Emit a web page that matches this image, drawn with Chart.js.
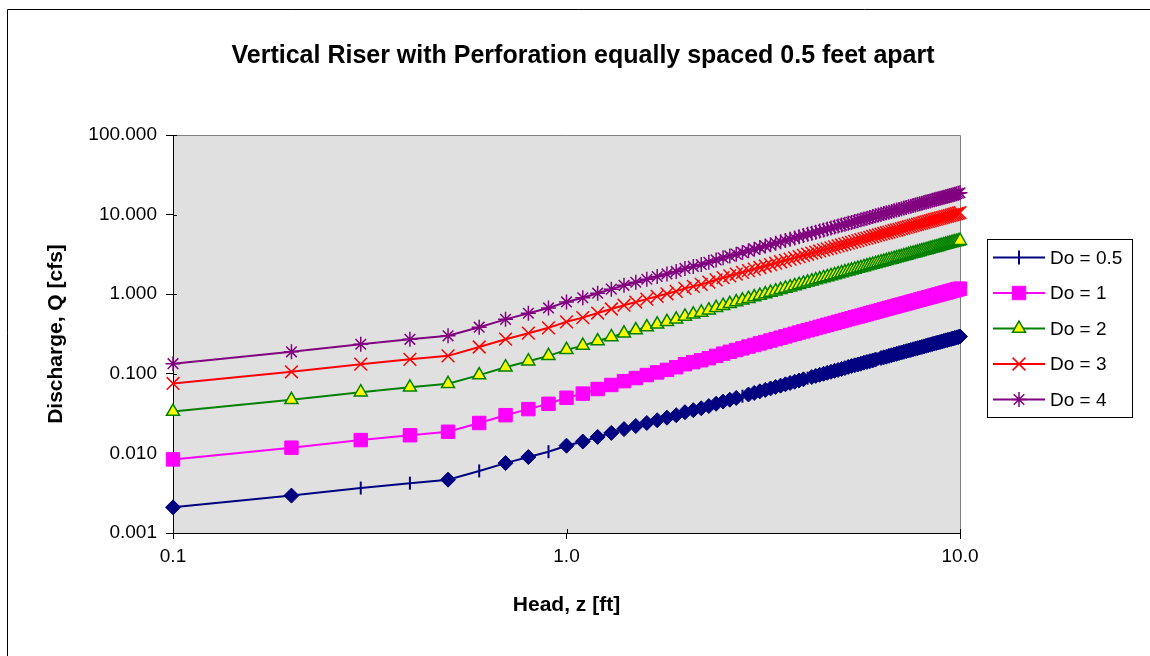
<!DOCTYPE html>
<html lang="en">
<head>
<meta charset="UTF-8">
<title>Vertical Riser with Perforation</title>
<script src="https://cdn.jsdelivr.net/npm/chart.js"></script>
<style>
  html, body { margin: 0; padding: 0; background: #fff; }
  canvas { display: block; }
</style>
</head>
<body>
<canvas id="riserChart" width="1150" height="656"></canvas>
<script>
  // head z [ft]
  const headFt = [
    0.1, 0.2, 0.3, 0.4, 0.5, 0.6, 0.7, 0.8, 0.9, 1.0,
    1.1, 1.2, 1.3, 1.4, 1.5, 1.6, 1.7, 1.8, 1.9, 2.0,
    2.1, 2.2, 2.3, 2.4, 2.5, 2.6, 2.7, 2.8, 2.9, 3.0,
    3.1, 3.2, 3.3, 3.4, 3.5, 3.6, 3.7, 3.8, 3.9, 4.0,
    4.1, 4.2, 4.3, 4.4, 4.5, 4.6, 4.7, 4.8, 4.9, 5.0,
    5.1, 5.2, 5.3, 5.4, 5.5, 5.6, 5.7, 5.8, 5.9, 6.0,
    6.1, 6.2, 6.3, 6.4, 6.5, 6.6, 6.7, 6.8, 6.9, 7.0,
    7.1, 7.2, 7.3, 7.4, 7.5, 7.6, 7.7, 7.8, 7.9, 8.0,
    8.1, 8.2, 8.3, 8.4, 8.5, 8.6, 8.7, 8.8, 8.9, 9.0,
    9.1, 9.2, 9.3, 9.4, 9.5, 9.6, 9.7, 9.8, 9.9, 10.0
  ];

  // discharge Q [cfs] for each perforation diameter
  const qDo05 = [
    0.00210, 0.00295, 0.00367, 0.00423, 0.00468, 0.00602, 0.00755, 0.00900, 0.0105, 0.0125,
    0.0141, 0.0161, 0.0181, 0.0202, 0.0221, 0.0241, 0.0261, 0.0281, 0.0302, 0.0329,
    0.0349, 0.0369, 0.0393, 0.0421, 0.0448, 0.0473, 0.0498, 0.0523, 0.0549, 0.0575,
    0.0602, 0.0628, 0.0655, 0.0683, 0.0710, 0.0738, 0.0767, 0.0795, 0.0824, 0.0853,
    0.0882, 0.0911, 0.0941, 0.0970, 0.100, 0.103, 0.106, 0.109, 0.112, 0.115,
    0.118, 0.122, 0.125, 0.128, 0.131, 0.134, 0.138, 0.141, 0.144, 0.147,
    0.151, 0.154, 0.158, 0.161, 0.164, 0.168, 0.171, 0.175, 0.178, 0.182,
    0.185, 0.189, 0.192, 0.196, 0.199, 0.203, 0.207, 0.210, 0.214, 0.217,
    0.221, 0.225, 0.229, 0.232, 0.236, 0.240, 0.244, 0.247, 0.251, 0.255,
    0.259, 0.263, 0.266, 0.270, 0.274, 0.278, 0.282, 0.286, 0.290, 0.294
  ];
  const qDo1 = [
    0.0084, 0.0118, 0.0147, 0.0169, 0.0187, 0.0241, 0.0302, 0.0360, 0.0420, 0.0500,
    0.0564, 0.0644, 0.0724, 0.0808, 0.0884, 0.0964, 0.104, 0.112, 0.121, 0.132,
    0.140, 0.148, 0.157, 0.168, 0.179, 0.189, 0.199, 0.209, 0.220, 0.230,
    0.241, 0.251, 0.262, 0.273, 0.284, 0.295, 0.307, 0.318, 0.330, 0.341,
    0.353, 0.364, 0.376, 0.388, 0.400, 0.412, 0.424, 0.436, 0.449, 0.461,
    0.474, 0.486, 0.499, 0.512, 0.524, 0.537, 0.550, 0.563, 0.576, 0.590,
    0.603, 0.616, 0.630, 0.644, 0.657, 0.671, 0.684, 0.698, 0.712, 0.726,
    0.740, 0.754, 0.768, 0.783, 0.797, 0.811, 0.826, 0.840, 0.855, 0.870,
    0.884, 0.899, 0.914, 0.929, 0.944, 0.959, 0.974, 0.989, 1.004, 1.020,
    1.035, 1.050, 1.066, 1.081, 1.097, 1.112, 1.128, 1.144, 1.160, 1.175
  ];
  const qDo2 = [
    0.0336, 0.0472, 0.0587, 0.0677, 0.0749, 0.0963, 0.121, 0.144, 0.168, 0.200,
    0.226, 0.258, 0.290, 0.323, 0.354, 0.386, 0.418, 0.450, 0.483, 0.526,
    0.558, 0.590, 0.629, 0.674, 0.717, 0.756, 0.796, 0.837, 0.878, 0.920,
    0.962, 1.005, 1.048, 1.092, 1.137, 1.181, 1.226, 1.272, 1.318, 1.365,
    1.411, 1.458, 1.505, 1.552, 1.600, 1.648, 1.696, 1.746, 1.795, 1.845,
    1.894, 1.944, 1.995, 2.046, 2.098, 2.149, 2.202, 2.253, 2.306, 2.358,
    2.413, 2.466, 2.520, 2.574, 2.629, 2.683, 2.738, 2.794, 2.848, 2.904,
    2.960, 3.018, 3.074, 3.131, 3.189, 3.245, 3.304, 3.362, 3.419, 3.478,
    3.538, 3.597, 3.656, 3.715, 3.776, 3.835, 3.896, 3.957, 4.018, 4.078,
    4.139, 4.202, 4.262, 4.325, 4.387, 4.450, 4.512, 4.576, 4.638, 4.701
  ];
  const qDo3 = [
    0.0756, 0.106, 0.132, 0.152, 0.168, 0.217, 0.272, 0.324, 0.378, 0.450,
    0.508, 0.580, 0.652, 0.727, 0.796, 0.868, 0.940, 1.012, 1.087, 1.184,
    1.256, 1.328, 1.415, 1.516, 1.613, 1.702, 1.792, 1.883, 1.976, 2.070,
    2.165, 2.262, 2.359, 2.458, 2.557, 2.658, 2.759, 2.862, 2.966, 3.070,
    3.175, 3.280, 3.386, 3.492, 3.600, 3.708, 3.816, 3.928, 4.039, 4.151,
    4.262, 4.374, 4.489, 4.604, 4.720, 4.835, 4.954, 5.069, 5.188, 5.306,
    5.429, 5.548, 5.670, 5.792, 5.915, 6.037, 6.160, 6.286, 6.408, 6.534,
    6.660, 6.790, 6.916, 7.045, 7.175, 7.301, 7.434, 7.564, 7.693, 7.826,
    7.960, 8.093, 8.226, 8.359, 8.496, 8.629, 8.766, 8.903, 9.040, 9.176,
    9.313, 9.454, 9.590, 9.731, 9.871, 10.01, 10.15, 10.30, 10.44, 10.58
  ];
  const qDo4 = [
    0.134, 0.189, 0.235, 0.271, 0.300, 0.385, 0.483, 0.576, 0.672, 0.800,
    0.902, 1.030, 1.158, 1.293, 1.414, 1.542, 1.670, 1.798, 1.933, 2.106,
    2.234, 2.362, 2.515, 2.694, 2.867, 3.025, 3.186, 3.349, 3.514, 3.680,
    3.850, 4.021, 4.194, 4.370, 4.546, 4.725, 4.906, 5.088, 5.272, 5.458,
    5.644, 5.831, 6.019, 6.208, 6.400, 6.592, 6.784, 6.982, 7.181, 7.379,
    7.578, 7.776, 7.981, 8.186, 8.390, 8.595, 8.806, 9.011, 9.222, 9.434,
    9.651, 9.862, 10.08, 10.30, 10.52, 10.73, 10.95, 11.17, 11.39, 11.62,
    11.84, 12.07, 12.29, 12.52, 12.76, 12.98, 13.22, 13.45, 13.68, 13.91,
    14.15, 14.39, 14.62, 14.86, 15.10, 15.34, 15.58, 15.83, 16.07, 16.31,
    16.56, 16.81, 17.05, 17.30, 17.55, 17.80, 18.05, 18.30, 18.55, 18.80
  ];

  const seriesLabels = ['Do = 0.5', 'Do = 1', 'Do = 2', 'Do = 3', 'Do = 4'];
  const xTickValues = [0.1, 1, 10];
  const yTickValues = [0.001, 0.01, 0.1, 1, 10, 100];
  // points of the Do = 0.5 series that show the "+" marker instead of a diamond
  const plusMarkerAt = [2, 3, 5, 8, 27, 40, 61];

  const FONT = "'Liberation Sans', Arial, sans-serif";
  const toPoints = ys => ys.map((y, i) => ({ x: headFt[i], y: y }));
  const isPlus = i => plusMarkerAt.includes(i);

  // plot background, frame, grey plot border, inner tick halves, legend
  const riserDecor = {
    id: 'riserDecor',
    beforeDraw(chart) {
      const { ctx, chartArea: a } = chart;
      ctx.save();
      ctx.fillStyle = '#ffffff';
      ctx.fillRect(0, 0, chart.width, chart.height);
      ctx.fillStyle = '#e0e0e0';
      ctx.fillRect(a.left, a.top, a.right - a.left, a.bottom - a.top);
      ctx.strokeStyle = '#000';
      ctx.lineWidth = 1;
      ctx.beginPath();
      ctx.moveTo(7.5, chart.height);
      ctx.lineTo(7.5, 9.5);
      ctx.lineTo(chart.width, 9.5);
      ctx.stroke();
      ctx.restore();
    },
    beforeDatasetsDraw(chart) {
      const { ctx, chartArea: a, scales } = chart;
      ctx.save();
      ctx.strokeStyle = '#808080';
      ctx.lineWidth = 1;
      ctx.beginPath();
      ctx.moveTo(a.left, a.top + 0.5);
      ctx.lineTo(a.right + 0.5, a.top + 0.5);
      ctx.lineTo(a.right + 0.5, a.bottom);
      ctx.stroke();
      ctx.strokeStyle = '#000';
      ctx.beginPath();
      yTickValues.forEach(v => {
        const y = Math.round(scales.y.getPixelForValue(v)) + 0.5;
        ctx.moveTo(a.left, y);
        ctx.lineTo(a.left + 4, y);
      });
      xTickValues.forEach(v => {
        const x = Math.round(scales.x.getPixelForValue(v)) + 0.5;
        ctx.moveTo(x, a.bottom);
        ctx.lineTo(x, a.bottom - 4);
      });
      ctx.stroke();
      ctx.restore();
    },
    afterDraw(chart) {
      const ctx = chart.ctx;
      const box = { x: 987.5, y: 239.5, w: 145, h: 178 };
      ctx.save();
      ctx.fillStyle = '#ffffff';
      ctx.fillRect(box.x, box.y, box.w, box.h);
      ctx.strokeStyle = '#000';
      ctx.lineWidth = 1;
      ctx.strokeRect(box.x, box.y, box.w, box.h);
      chart.data.datasets.forEach((ds, i) => {
        const y = 257.5 + i * 35.5;
        ctx.strokeStyle = ds.borderColor;
        ctx.lineWidth = 2;
        ctx.beginPath();
        ctx.moveTo(993, y);
        ctx.lineTo(1045, y);
        ctx.stroke();
        const m = ds.legendMarker;
        ctx.fillStyle = m.fill;
        ctx.strokeStyle = m.stroke;
        ctx.lineWidth = m.borderWidth;
        Chart.helpers.drawPoint(ctx, m, 1019, y);
        ctx.fillStyle = '#000';
        ctx.font = '19px ' + FONT;
        ctx.textAlign = 'left';
        ctx.textBaseline = 'middle';
        ctx.fillText(ds.label, 1050, y + 1);
      });
      ctx.restore();
    }
  };

  const datasets = [
    {
      label: seriesLabels[0],
      data: toPoints(qDo05),
      borderColor: '#000080',
      backgroundColor: '#000080',
      borderWidth: 2,
      pointStyle: headFt.map((_, i) => isPlus(i) ? 'line' : 'rectRot'),
      pointRotation: headFt.map((_, i) => isPlus(i) ? 90 : 0),
      pointRadius: headFt.map((_, i) => isPlus(i) ? 6.5 : 7.5),
      pointBorderWidth: headFt.map((_, i) => isPlus(i) ? 2 : 1),
      legendMarker: { pointStyle: 'line', rotation: 90, radius: 7, borderWidth: 2, fill: '#000080', stroke: '#000080' }
    },
    {
      label: seriesLabels[1],
      data: toPoints(qDo1),
      borderColor: '#ff00ff',
      backgroundColor: '#ff00ff',
      borderWidth: 2,
      pointStyle: 'rect',
      pointRadius: 9.5,
      pointBorderWidth: 1,
      legendMarker: { pointStyle: 'rect', rotation: 0, radius: 9.5, borderWidth: 1, fill: '#ff00ff', stroke: '#ff00ff' }
    },
    {
      label: seriesLabels[2],
      data: toPoints(qDo2),
      borderColor: '#008000',
      backgroundColor: '#ffff00',
      pointBackgroundColor: '#ffff00',
      pointBorderColor: '#008000',
      borderWidth: 2,
      pointStyle: 'triangle',
      pointRadius: 7.5,
      pointBorderWidth: 1.5,
      legendMarker: { pointStyle: 'triangle', rotation: 0, radius: 7.5, borderWidth: 1.5, fill: '#ffff00', stroke: '#008000' }
    },
    {
      label: seriesLabels[3],
      data: toPoints(qDo3),
      borderColor: '#ff0000',
      backgroundColor: '#ff0000',
      borderWidth: 2,
      pointStyle: 'crossRot',
      pointRadius: 9,
      pointBorderWidth: 1.5,
      legendMarker: { pointStyle: 'crossRot', rotation: 0, radius: 9, borderWidth: 1.5, fill: '#ff0000', stroke: '#ff0000' }
    },
    {
      label: seriesLabels[4],
      data: toPoints(qDo4),
      borderColor: '#800080',
      backgroundColor: '#800080',
      borderWidth: 2,
      pointStyle: 'star',
      pointRadius: 7.5,
      pointBorderWidth: 1.5,
      legendMarker: { pointStyle: 'star', rotation: 0, radius: 7.5, borderWidth: 1.5, fill: '#800080', stroke: '#800080' }
    }
  ];

  new Chart(document.getElementById('riserChart'), {
    type: 'line',
    data: { datasets: datasets },
    plugins: [riserDecor],
    options: {
      responsive: false,
      animation: false,
      devicePixelRatio: 1,
      events: [],
      clip: false,
      elements: { line: { tension: 0 } },
      layout: { padding: { left: 44, right: 28, top: 20, bottom: 38 } },
      plugins: {
        legend: { display: false },
        tooltip: { enabled: false },
        title: {
          display: true,
          text: 'Vertical Riser with Perforation equally spaced 0.5 feet apart',
          color: '#000',
          font: { family: FONT, size: 25, weight: 'bold' },
          padding: { top: 21, bottom: 64 }
        }
      },
      scales: {
        x: {
          type: 'logarithmic',
          min: 0.1,
          max: 10,
          afterBuildTicks: s => { s.ticks = xTickValues.map(v => ({ value: v })); },
          afterFit: s => { s.height = 85; },
          ticks: {
            callback: v => Number(v).toFixed(1),
            color: '#000',
            font: { family: FONT, size: 19 },
            padding: 6,
            maxRotation: 0,
            autoSkip: false
          },
          grid: { drawOnChartArea: false, drawTicks: true, tickLength: 6, color: '#000' },
          border: { color: '#000', width: 1 },
          title: {
            display: true,
            text: 'Head, z [ft]',
            color: '#000',
            font: { family: FONT, size: 21, weight: 'bold' },
            padding: 0
          }
        },
        y: {
          type: 'logarithmic',
          min: 0.001,
          max: 100,
          afterBuildTicks: s => { s.ticks = yTickValues.map(v => ({ value: v })); },
          afterFit: s => { s.width = 129; },
          ticks: {
            callback: v => Number(v).toFixed(3),
            color: '#000',
            font: { family: FONT, size: 19 },
            padding: 9,
            autoSkip: false
          },
          grid: { drawOnChartArea: false, drawTicks: true, tickLength: 7, color: '#000' },
          border: { color: '#000', width: 1 },
          title: {
            display: true,
            text: 'Discharge, Q [cfs]',
            color: '#000',
            font: { family: FONT, size: 21, weight: 'bold' },
            padding: 0
          }
        },
        // empty right-hand space reserved for the legend
        legendSpace: {
          position: 'right',
          type: 'linear',
          display: true,
          grid: { display: false },
          ticks: { display: false },
          border: { display: false },
          afterFit: s => { s.width = 162; }
        }
      }
    }
  });
</script>
</body>
</html>
